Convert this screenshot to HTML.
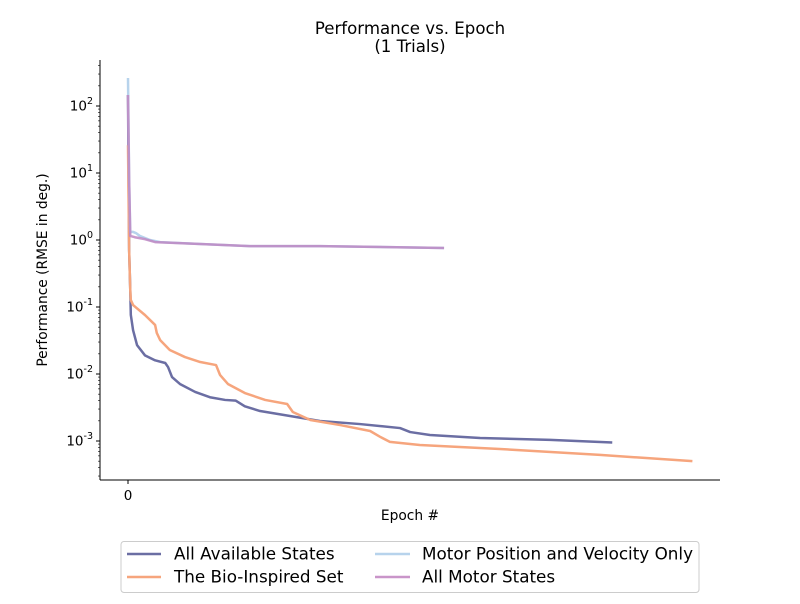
<!DOCTYPE html>
<html><head><meta charset="utf-8"><style>
body{margin:0;background:#fff;font-family:"DejaVu Sans","Liberation Sans",sans-serif;}
svg text{font-family:"DejaVu Sans","Liberation Sans",sans-serif;}
</style></head><body>
<svg id="chart" width="800" height="600" xmlns="http://www.w3.org/2000/svg">
<rect width="800" height="600" fill="#fff"/>
<text x="410" y="34" text-anchor="middle" font-size="16.6">Performance vs. Epoch</text>
<text x="410" y="52" text-anchor="middle" font-size="16.6">(1 Trials)</text>
<g id="marks"></g>
<line x1="100" y1="60" x2="100" y2="480" stroke="#000" stroke-width="1"/>
<line x1="100" y1="480" x2="720" y2="480" stroke="#000" stroke-width="1"/>
<g id="yticks"></g>
<g id="xticks"></g>
<text x="410" y="520" text-anchor="middle" font-size="13.8">Epoch #</text>
<text transform="translate(47,270) rotate(-90)" text-anchor="middle" font-size="13.8">Performance (RMSE in deg.)</text>
<g>
<rect x="121" y="541.5" width="578" height="51" rx="3" fill="#fff" stroke="#ccc"/>
<line x1="127" y1="554" x2="161" y2="554" stroke="#6b6ea3" stroke-width="2.5"/>
<text x="174" y="559.5" font-size="16.8">All Available States</text>
<line x1="127" y1="577" x2="161" y2="577" stroke="#f6a57d" stroke-width="2.5"/>
<text x="174" y="582.5" font-size="16.8">The Bio-Inspired Set</text>
<line x1="375" y1="554" x2="410" y2="554" stroke="#b7d3ec" stroke-width="2.5"/>
<text x="422" y="559.5" font-size="16.8">Motor Position and Velocity Only</text>
<line x1="375" y1="577" x2="410" y2="577" stroke="#c995c9" stroke-width="2.5"/>
<text x="422" y="582.5" font-size="16.8">All Motor States</text>
</g>
</svg>
<script>
const allEpochs=[0,2,4,5,9,16,30,48,66,71,78,92,119,145,172,191,207,234,287,340,411,482,500,535,624,748,858];
const allValues=[146,0.71,0.18,0.076,0.045,0.027,0.019,0.016,0.0146,0.0127,0.0090,0.0071,0.0054,0.0045,0.0041,0.0040,0.0033,0.0028,0.00236,0.00199,0.00179,0.00156,0.00136,0.00123,0.00111,0.00104,0.00095];
const bioEpochs=[0,2,4,5,9,30,48,51,57,74,101,128,156,163,177,207,243,282,292,323,376,429,447,464,517,659,836,1000];
const bioValues=[26,0.71,0.18,0.127,0.107,0.076,0.054,0.041,0.032,0.0228,0.0179,0.0151,0.0136,0.0097,0.0071,0.0052,0.0041,0.00357,0.00271,0.00206,0.00173,0.00141,0.00115,0.00097,0.00087,0.00076,0.00062,0.0005];
const motorEpochs=[0,2,4,9,14,21,39,57,128,216,340,560];
const motorValues=[262,7.9,1.32,1.32,1.27,1.15,1.0,0.93,0.87,0.81,0.81,0.76];
const allMotorEpochs=[0,2,4,12,30,48,128,216,340,560];
const allMotorValues=[146,7.9,1.15,1.10,1.03,0.93,0.87,0.81,0.81,0.76];
const yTickExps=[2,1,0,-1,-2,-3];
const xTickValues=[0];

const NS="http://www.w3.org/2000/svg";
function xs(e){return 128+e*0.5644;}
function ys(v){return 240-Math.log10(v)*67;}
const marks=document.getElementById('marks');
function series(ep,va,color,name,w){
  const p=document.createElementNS(NS,'path');
  let d='';
  for(let i=0;i<ep.length;i++){d+=(i?'L':'M')+xs(ep[i]).toFixed(2)+','+ys(va[i]).toFixed(2);}
  p.setAttribute('d',d);p.setAttribute('fill','none');p.setAttribute('stroke',color);
  p.setAttribute('stroke-width',w);p.setAttribute('stroke-linejoin','round');
  
  
  marks.appendChild(p);
}
series(allEpochs,allValues,'#6b6ea3','line-all-available-states',2.5);
series(bioEpochs,bioValues,'#f6a57d','line-bio-inspired-set',2.5);
series(motorEpochs,motorValues,'#b7d3ec','line-motor-position-velocity',2.5);
series(allMotorEpochs,allMotorValues,'rgba(190,135,195,0.85)','line-all-motor-states',2.5);

const yt=document.getElementById('yticks');
function minor(ym){
  if(ym<60||ym>480)return;
  const ml=document.createElementNS(NS,'line');
  ml.setAttribute('x1',98);ml.setAttribute('x2',100);ml.setAttribute('y1',ym);ml.setAttribute('y2',ym);ml.setAttribute('stroke','#000');ml.setAttribute('stroke-width','0.6');
  
  
  yt.appendChild(ml);
}
yTickExps.forEach(k=>{
  const y=ys(Math.pow(10,k));
  const l=document.createElementNS(NS,'line');
  l.setAttribute('x1',96);l.setAttribute('x2',100);l.setAttribute('y1',y);l.setAttribute('y2',y);l.setAttribute('stroke','#000');
  
  
  yt.appendChild(l);
  for(let m=2;m<10;m++){minor(ys(m*Math.pow(10,k-1)));}
  const t=document.createElementNS(NS,'text');
  t.setAttribute('x',93);t.setAttribute('y',y+4.5);t.setAttribute('text-anchor','end');t.setAttribute('font-size','13.5');
  t.innerHTML='10<tspan dy="-6.5" font-size="9.5">'+k+'</tspan>';
  
  
  yt.appendChild(t);
});
for(let m=2;m<10;m++){minor(ys(m*100));}

const xt=document.getElementById('xticks');
xTickValues.forEach(v=>{
  const x=xs(v);
  const l=document.createElementNS(NS,'line');
  l.setAttribute('x1',x);l.setAttribute('x2',x);l.setAttribute('y1',480);l.setAttribute('y2',484);l.setAttribute('stroke','#000');
  
  
  xt.appendChild(l);
  const t=document.createElementNS(NS,'text');
  t.setAttribute('x',x);t.setAttribute('y',500);t.setAttribute('text-anchor','middle');t.setAttribute('font-size','13.5');
  t.textContent=v;
  
  
  xt.appendChild(t);
});
</script>
</body></html>
